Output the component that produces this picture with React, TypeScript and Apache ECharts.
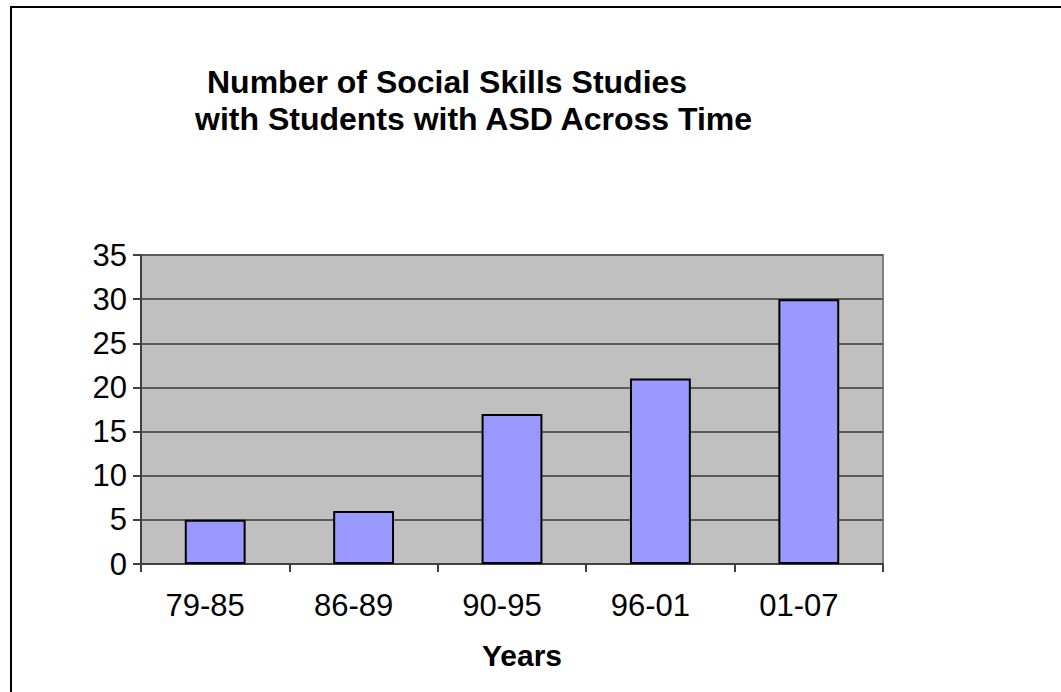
import React, { useEffect, useRef } from "react";
import * as echarts from "echarts";

const categories = ["79-85", "86-89", "90-95", "96-01", "01-07"];
const studies = [5, 6, 17, 21, 30];
const titleLines = ["Number of Social Skills Studies", "with Students with ASD Across Time"];
const xTitle = "Years";

export default function App() {
  const ref = useRef<HTMLDivElement>(null);
  useEffect(() => {
    if (!ref.current) return;
    const chart = echarts.init(ref.current, null, { renderer: "svg" });
    const font = "Liberation Sans, Arial, sans-serif";
    chart.setOption({
      animation: false,
      backgroundColor: "#ffffff",
      grid: {
        left: 141,
        top: 255,
        right: 178,
        bottom: 128,
        show: true,
        backgroundColor: "#c0c0c0",
        borderColor: "#808080",
        borderWidth: 2,
      },
      xAxis: {
        type: "category",
        data: categories,
        boundaryGap: true,
        axisLine: { show: true, lineStyle: { color: "#404040", width: 2 } },
        axisTick: { show: true, length: 8, alignWithLabel: false, lineStyle: { color: "#404040", width: 2 } },
        axisLabel: { color: "#000", fontFamily: font, fontSize: 31, margin: 26, padding: [0, 20, 0, 0] },
        splitLine: { show: false },
      },
      yAxis: {
        type: "value",
        min: 0,
        max: 35,
        interval: 5,
        axisLine: { show: true, lineStyle: { color: "#404040", width: 2 } },
        axisTick: { show: true, length: 8, lineStyle: { color: "#404040", width: 2 } },
        axisLabel: { color: "#000", fontFamily: font, fontSize: 31, margin: 14 },
        splitLine: { show: true, lineStyle: { color: "#5a5a5a", width: 2 } },
      },
      series: [
        {
          type: "bar",
          data: studies,
          barWidth: "41%",
          itemStyle: { color: "#9999ff", borderColor: "#000", borderWidth: 2 },
        },
      ],
      graphic: [
        {
          type: "rect",
          shape: { x: 11, y: 7, width: 1200, height: 900 },
          style: { fill: "none", stroke: "#000", lineWidth: 2 },
          silent: true,
        },
        {
          type: "text",
          x: 207,
          y: 82,
          style: {
            text: titleLines[0],
            font: `bold 32px ${font}`,
            fill: "#000",
            textAlign: "left",
            textVerticalAlign: "middle",
          },
        },
        {
          type: "text",
          x: 195,
          y: 119,
          style: {
            text: titleLines[1],
            font: `bold 32px ${font}`,
            fill: "#000",
            textAlign: "left",
            textVerticalAlign: "middle",
          },
        },
        {
          type: "text",
          x: 522,
          y: 655,
          style: {
            text: xTitle,
            font: `bold 30px ${font}`,
            fill: "#000",
            textAlign: "center",
            textVerticalAlign: "middle",
          },
        },
      ],
    });
    return () => chart.dispose();
  }, []);
  return (
    <div
      ref={ref}
      style={{ position: "absolute", left: 0, top: 0, width: 1061, height: 692 }}
    />
  );
}
